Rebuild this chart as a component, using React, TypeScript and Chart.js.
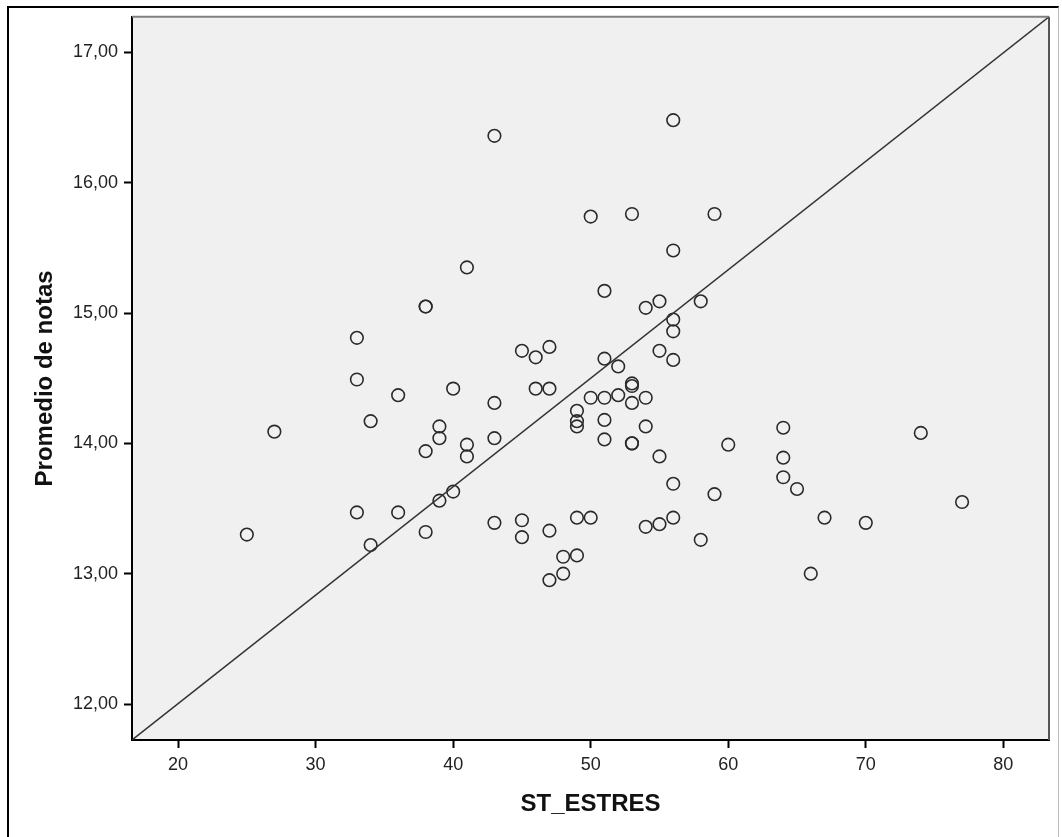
import React, { useEffect, useRef } from "react";
import { Chart, registerables } from "chart.js";

Chart.register(...registerables);

// ST_ESTRES values (x) and Promedio de notas values (y)
const stress: number[] = [
  25, 27,
  33, 33, 33,
  34, 34,
  36, 36,
  38, 38, 38, 38,
  39, 39, 39,
  40, 40,
  41, 41, 41,
  43, 43, 43, 43,
  45, 45, 45,
  46, 46,
  47, 47, 47, 47,
  48, 48,
  49, 49, 49, 49, 49,
  50, 50, 50,
  51, 51, 51, 51, 51,
  52, 52,
  53, 53, 53, 53, 53, 53,
  54, 54, 54, 54,
  55, 55, 55, 55,
  56, 56, 56, 56, 56, 56, 56,
  58, 58,
  59, 59,
  60,
  64, 64, 64,
  65, 66, 67, 70, 74, 77,
];

const grades: number[] = [
  13.30, 14.09,
  14.81, 14.49, 13.47,
  14.17, 13.22,
  14.37, 13.47,
  15.05, 15.05, 13.94, 13.32,
  14.13, 14.04, 13.56,
  14.42, 13.63,
  15.35, 13.99, 13.90,
  16.36, 14.31, 14.04, 13.39,
  14.71, 13.41, 13.28,
  14.66, 14.42,
  14.74, 14.42, 13.33, 12.95,
  13.13, 13.00,
  14.25, 14.17, 14.13, 13.43, 13.14,
  15.74, 14.35, 13.43,
  15.17, 14.65, 14.35, 14.18, 14.03,
  14.59, 14.37,
  15.76, 14.46, 14.44, 14.31, 14.00, 14.00,
  15.04, 14.35, 14.13, 13.36,
  15.09, 14.71, 13.90, 13.38,
  16.48, 15.48, 14.95, 14.86, 14.64, 13.69, 13.43,
  15.09, 13.26,
  15.76, 13.61,
  13.99,
  14.12, 13.89, 13.74,
  13.65, 13.00, 13.43, 13.39, 14.08, 13.55,
];

const xTicks: number[] = [20, 30, 40, 50, 60, 70, 80];
const yTicks: number[] = [12, 13, 14, 15, 16, 17];

const xRange: number[] = [16.65, 83.32];
const yRange: number[] = [11.724, 17.273];

const xTitle = "ST_ESTRES";
const yTitle = "Promedio de notas";

const FONT = "'Liberation Sans', Arial, Helvetica, sans-serif";

const framePlugin = {
  id: "spssFrame",
  beforeDraw(chart: any) {
    const { ctx, chartArea } = chart;
    const { left, top, right, bottom } = chartArea;
    ctx.save();
    ctx.fillStyle = "#f0f0f0";
    ctx.fillRect(left, top, right - left, bottom - top);
    ctx.restore();
  },
  afterDraw(chart: any) {
    const { ctx, chartArea } = chart;
    const { left, top, right, bottom } = chartArea;
    ctx.save();
    ctx.lineWidth = 2;
    ctx.strokeStyle = "#808080";
    ctx.beginPath();
    ctx.moveTo(left, top);
    ctx.lineTo(right, top);
    ctx.stroke();
    ctx.strokeStyle = "#555555";
    ctx.beginPath();
    ctx.moveTo(right, top);
    ctx.lineTo(right, bottom);
    ctx.stroke();
    ctx.restore();
  },
};

export default function App() {
  const canvasRef = useRef<HTMLCanvasElement | null>(null);

  useEffect(() => {
    const canvas = canvasRef.current;
    if (!canvas) return;
    const points = stress.map((x, i) => ({ x, y: grades[i] }));
    const diag = [
      { x: xRange[0], y: yRange[0] },
      { x: xRange[1], y: yRange[1] },
    ];
    const chart = new Chart(canvas, {
      type: "scatter",
      data: {
        datasets: [
          {
            label: "ref",
            data: diag,
            showLine: true,
            borderColor: "#333333",
            borderWidth: 1.5,
            pointRadius: 0,
            pointHoverRadius: 0,
            fill: false,
          } as any,
          {
            label: "datos",
            data: points,
            pointStyle: "circle",
            pointRadius: 6.3,
            pointBorderWidth: 1.6,
            borderColor: "#2a2a2a",
            backgroundColor: "rgba(0,0,0,0)",
            pointBackgroundColor: "rgba(0,0,0,0)",
          } as any,
        ],
      },
      options: {
        responsive: false,
        animation: false,
        devicePixelRatio: 1,
        layout: { padding: { left: 0, top: 16, right: 13, bottom: 0 } },
        plugins: {
          legend: { display: false },
          tooltip: { enabled: false },
        },
        scales: {
          x: {
            type: "linear",
            min: xRange[0],
            max: xRange[1],
            afterBuildTicks: (scale: any) => {
              scale.ticks = xTicks.map((v) => ({ value: v }));
            },
            afterFit: (scale: any) => {
              scale.height = 97;
            },
            border: { display: true, color: "#000000", width: 2 },
            grid: {
              display: true,
              drawOnChartArea: false,
              drawTicks: true,
              tickLength: 8,
              tickWidth: 2,
              tickColor: "#000000",
            },
            ticks: {
              color: "#222222",
              padding: 6,
              font: { family: FONT, size: 18 },
              maxRotation: 0,
              autoSkip: false,
              callback: (v: any) => String(v),
            },
            title: {
              display: true,
              text: xTitle,
              color: "#111111",
              font: { family: FONT, size: 24, weight: "bold" },
              padding: { top: 0, bottom: 18 },
            },
          },
          y: {
            type: "linear",
            min: yRange[0],
            max: yRange[1],
            afterBuildTicks: (scale: any) => {
              scale.ticks = yTicks.map((v) => ({ value: v }));
            },
            afterFit: (scale: any) => {
              scale.width = 132;
            },
            border: { display: true, color: "#000000", width: 2 },
            grid: {
              display: true,
              drawOnChartArea: false,
              drawTicks: true,
              tickLength: 8,
              tickWidth: 2,
              tickColor: "#000000",
            },
            ticks: {
              color: "#222222",
              padding: 6,
              font: { family: FONT, size: 18 },
              autoSkip: false,
              callback: (v: any) => Number(v).toFixed(2).replace(".", ","),
            },
            title: {
              display: true,
              text: yTitle,
              color: "#111111",
              font: { family: FONT, size: 24, weight: "bold" },
              padding: { top: 31, bottom: 0 },
            },
          },
        },
      },
      plugins: [framePlugin],
    });
    return () => chart.destroy();
  }, []);

  return (
    <div style={{ position: "absolute", left: 0, top: 0, width: 1062, height: 837, overflow: "hidden", background: "#ffffff" }}>
      <div
        style={{
          position: "absolute",
          left: 7,
          top: 6,
          width: 1052,
          height: 840,
          borderTop: "2px solid #000",
          borderLeft: "2px solid #000",
          borderRight: "1px solid #bbb",
          boxSizing: "border-box",
        }}
      />
      <canvas
        ref={canvasRef}
        width={1062}
        height={837}
        style={{ position: "absolute", left: 0, top: 0, display: "block" }}
      />
    </div>
  );
}
